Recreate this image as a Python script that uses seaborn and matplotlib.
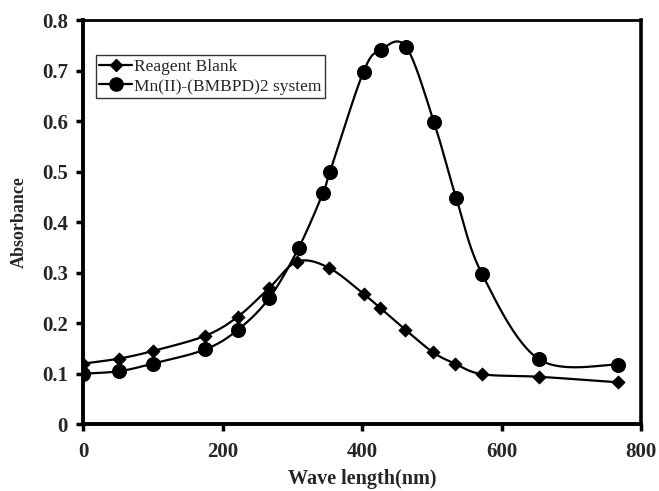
import numpy as np
import pandas as pd
import matplotlib
matplotlib.use("Agg")
import matplotlib.pyplot as plt
import seaborn as sns
from matplotlib.lines import Line2D

# Data
blank_wl = [0, 52, 100, 175, 222, 267, 307, 352, 402, 426, 462, 502, 533, 572, 653, 767]
blank_abs = [0.12, 0.13, 0.145, 0.175, 0.213, 0.27, 0.322, 0.31, 0.258, 0.23, 0.187, 0.142, 0.12, 0.099, 0.094, 0.083]
mn_wl = [0, 52, 100, 175, 222, 267, 309, 344, 354, 402, 427, 463, 503, 535, 572, 653, 767]
mn_abs = [0.1, 0.105, 0.12, 0.148, 0.187, 0.25, 0.349, 0.458, 0.5, 0.698, 0.741, 0.747, 0.598, 0.447, 0.297, 0.129, 0.118]
labels = ["Reagent Blank", "Mn(II)-(BMBPD)2 system"]
x_ticks = [0, 200, 400, 600, 800]
y_ticks = [0, 0.1, 0.2, 0.3, 0.4, 0.5, 0.6, 0.7, 0.8]

sns.set_theme(style="white")
plt.rcParams['font.family'] = ['Liberation Serif', 'DejaVu Serif']

fig = plt.figure(figsize=(6.59, 4.91), dpi=100)
ax = fig.add_axes([0.126, 0.136, 0.847, 0.823])
ax.set_xlim(0, 800)
ax.set_ylim(0, 0.8)

SX, SY = 558 / 800, 404 / 0.8  # pixel scale for smoothing


def smooth(xs, ys, n=30):
    P = np.column_stack([np.asarray(xs) * SX, np.asarray(ys) * SY])
    out = []
    for i in range(len(P) - 1):
        p0 = P[i - 1] if i > 0 else P[i]
        p1, p2 = P[i], P[i + 1]
        p3 = P[i + 2] if i + 2 < len(P) else P[i + 1]
        c1 = p1 + (p2 - p0) / 6
        c2 = p2 - (p3 - p1) / 6
        t = np.linspace(0, 1, n)[:, None]
        seg = ((1 - t) ** 3) * p1 + 3 * ((1 - t) ** 2) * t * c1 + 3 * (1 - t) * t ** 2 * c2 + t ** 3 * p2
        out.append(seg if i == 0 else seg[1:])
    out = np.vstack(out)
    return out[:, 0] / SX, out[:, 1] / SY


for xs, ys, mk, ms in [(blank_wl, blank_abs, 'D', 45), (mn_wl, mn_abs, 'o', 100)]:
    sx, sy = smooth(xs, ys)
    ax.plot(sx, sy, color='black', lw=1.6, zorder=2)
    df = pd.DataFrame({'x': xs, 'y': ys})
    sns.scatterplot(data=df, x='x', y='y', marker=mk, s=ms, color='black',
                    edgecolor='black', ax=ax, zorder=3, legend=False)

ax.set_xticks(x_ticks)
ax.set_yticks(y_ticks)
ax.set_xticklabels([str(v) for v in x_ticks])
ax.set_yticklabels(['0'] + [f"{v:.1f}" for v in y_ticks[1:]])
for lab in ax.get_xticklabels() + ax.get_yticklabels():
    lab.set_fontweight('bold')
    lab.set_fontsize(15)
ax.tick_params(axis='both', direction='out', length=5, width=2.5, color='black',
               bottom=True, left=True, top=False, right=False)
ax.tick_params(axis='x', pad=8)
ax.tick_params(axis='y', pad=6)
for side in ['left', 'bottom']:
    ax.spines[side].set_linewidth(2.8)
ax.spines['top'].set_linewidth(2.0)
ax.spines['right'].set_linewidth(2.6)
for s in ax.spines.values():
    s.set_color('black')
    s.set_visible(True)

ax.set_xlabel("Wave length(nm)", fontweight='bold', fontsize=14.5, labelpad=5)
ax.set_ylabel("Absorbance", fontweight='bold', fontsize=13, labelpad=10)

handles = [Line2D([], [], color='black', lw=1.6, marker='D', markersize=6.5),
           Line2D([], [], color='black', lw=1.6, marker='o', markersize=9.5)]
leg = ax.legend(handles, labels, loc='upper left', bbox_to_anchor=(0.023, 0.913),
                frameon=True, fancybox=False, edgecolor='black', fontsize=12.5,
                handlelength=1.9, handletextpad=0.1, borderpad=0.2, labelspacing=0.2,
                borderaxespad=0)
leg.get_frame().set_linewidth(1.0)

fig.savefig("out.png", dpi=100)
